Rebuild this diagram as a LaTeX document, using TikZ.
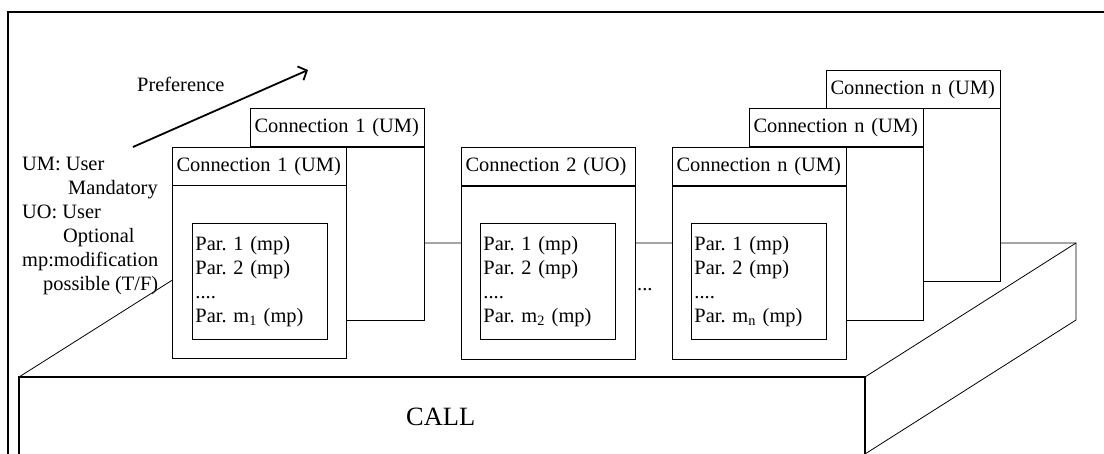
\documentclass[tikz,border=0pt]{standalone}
\usepackage{fontspec}
\setmainfont{Liberation Serif}
\usetikzlibrary{arrows.meta}
\begin{document}
\frenchspacing
\begin{tikzpicture}[x=1pt,y=-1pt, font=\fontsize{20.4pt}{24pt}\selectfont,
 hdr/.style={draw, fill=white, line width=1pt, anchor=north west, minimum height=38.5pt, text width=166pt, inner xsep=4pt, inner ysep=0pt, align=left},
 bodybox/.style={draw, fill=white, line width=0.9pt, anchor=north west, minimum width=174pt, minimum height=173pt, inner sep=0pt},
 parbox/.style={draw, fill=white, line width=0.9pt, anchor=north west, minimum height=116pt, text width=129pt, inner xsep=3pt, inner ysep=0pt, align=left},
 slab/.style={line width=0.8pt},
 slabfront/.style={line width=1.4pt},
 plain/.style={inner sep=0pt}]
\useasboundingbox (0,0) rectangle (1104,454);
% frame
\draw[line width=2pt] (8,454) -- (8,12) -- (1104,12);
% slab (CALL)
\draw[slab] (19,377) -- (231,243) -- (1076,243) -- (1076,320) -- (865,454);
\draw[slab] (865,377) -- (1076,243);
\draw[slabfront] (19,454) -- (19,377) -- (865,377) -- (865,454);
\node[plain, anchor=base west, font=\fontsize{26.4pt}{30pt}\selectfont] (call) at (406,425) {CALL};
% preference arrow
\node[plain, anchor=base west] (pref) at (137,92) {Preference};
\coordinate (prefA) at (133,147);
\coordinate (prefB) at (308,70);
\draw[line width=1.8pt, -{Straight Barb[length=7pt,width=15pt]}] (prefA) -- (prefB);
% legend
\node[plain, anchor=north west, align=left] (legend) at (22,156.5) {UM: User\\\hspace*{46pt}Mandatory\\UO: User\\\hspace*{41pt}Optional\\mp:modification\\\hspace*{21pt}possible (T/F)};
% connection 1 (back)
\node[bodybox] (c1bb) at (250,147) {};
\node[hdr] (c1bh) at (250,108) {Connection 1 (UM)};
% connection 1 (front)
\node[bodybox] (c1fb) at (172,185.5) {};
\node[hdr] (c1fh) at (172,147) {Connection 1 (UM)};
\node[parbox] (p1) at (192,223) {Par. 1 (mp)\\Par. 2 (mp)\\....\\Par. m\textsubscript{1} (mp)};
% connection 2
\node[bodybox] (c2b) at (461,186) {};
\node[hdr] (c2h) at (461,147) {Connection 2 (UO)};
\node[parbox] (p2) at (480,223) {Par. 1 (mp)\\Par. 2 (mp)\\....\\Par. m\textsubscript{2} (mp)};
% dots
\node[plain, anchor=base west] (dots) at (637,291) {...};
% connection n (back, middle, front)
\node[bodybox] (cnbb) at (826,108) {};
\node[hdr] (cnbh) at (826,70) {Connection n (UM)};
\node[bodybox] (cnmb) at (749,147) {};
\node[hdr] (cnmh) at (749,108) {Connection n (UM)};
\node[bodybox] (cnfb) at (672,186) {};
\node[hdr] (cnfh) at (672,147) {Connection n (UM)};
\node[parbox] (pn) at (691,223) {Par. 1 (mp)\\Par. 2 (mp)\\....\\Par. m\textsubscript{n} (mp)};
\end{tikzpicture}
\end{document}
